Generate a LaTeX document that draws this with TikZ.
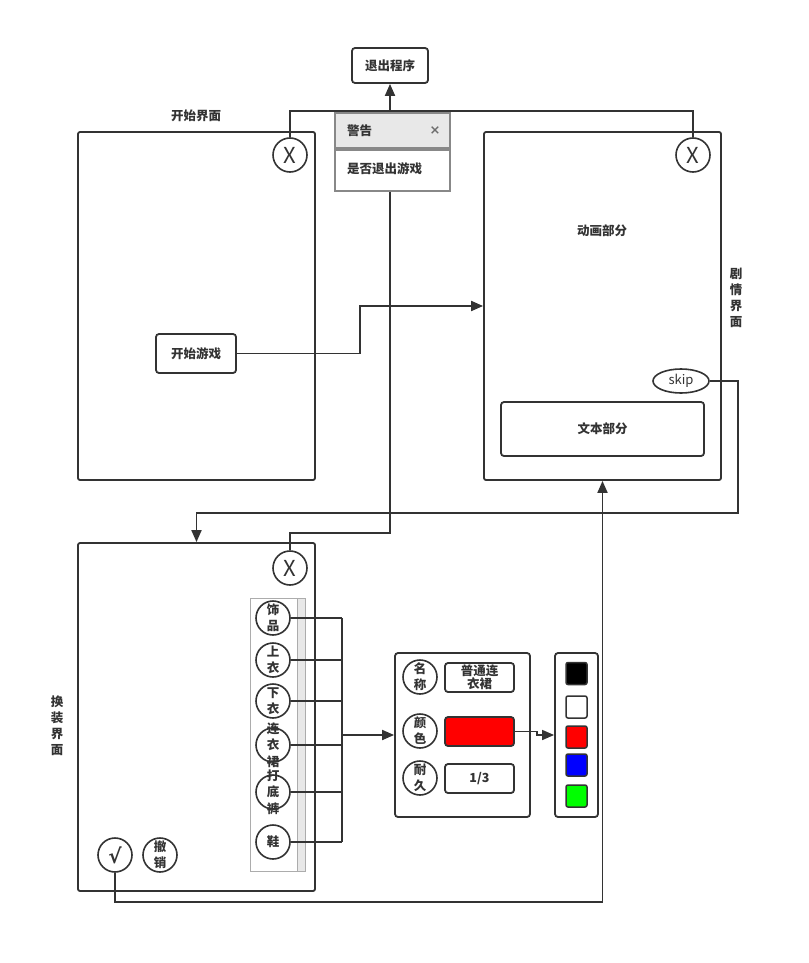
\documentclass[tikz,border=0pt]{standalone}
\usepackage{fontspec}
\setmainfont{Noto Sans CJK SC}
\newfontfamily\djv{DejaVu Sans}
\usetikzlibrary{arrows.meta,shapes.geometric}
\definecolor{ln}{HTML}{333333}
\definecolor{wg}{HTML}{888888}
\definecolor{hd}{HTML}{E8E8E8}
\begin{document}
\begin{tikzpicture}[x=1pt,y=-1pt,line width=1.8pt,
  every node/.style={font=\fontsize{12.5}{14}\selectfont\bfseries, text=ln},
  screen/.style={draw=ln,rounded corners=2pt,line width=1.8pt,minimum width=237pt,minimum height=348pt,inner sep=0pt},
  btn/.style={draw=ln,rounded corners=3pt,line width=1.8pt,inner sep=0pt},
  circ/.style={draw=ln,circle,line width=1.6pt,minimum size=34pt,inner sep=0pt,align=center,font=\fontsize{12.5}{13}\selectfont\bfseries},
  conn/.style={draw=ln,line width=1.8pt},
  arr/.style={conn,-{Triangle[length=12pt,width=10pt]}},
  sw/.style={draw=ln,rounded corners=2pt,line width=1.5pt,minimum width=21pt,minimum height=22pt,inner sep=0pt}]
\useasboundingbox (0,0) rectangle (808,963);
% screens
\node[screen] (start) at (196.5,306) {};
\node[screen] (story) at (602.5,306) {};
\node[screen] (dress) at (196.5,717) {};
% labels
\node (lstart) at (196,116) {开始界面};
\node[align=center,font=\fontsize{12.5}{16}\selectfont\bfseries] (lstory) at (736,298) {剧\\情\\界\\面};
\node[align=center,font=\fontsize{12.5}{16}\selectfont\bfseries] (ldress) at (57,726) {换\\装\\界\\面};
% quit
\node[btn,minimum width=76pt,minimum height=35pt] (quit) at (390,65.5) {退出程序};
% warning
\node[draw=wg,fill=hd,line width=1.8pt,minimum width=115pt,minimum height=35pt,inner sep=0pt] (warnh) at (392.5,130.5) {};
\node[draw=wg,fill=white,line width=1.8pt,minimum width=115pt,minimum height=41pt,inner sep=0pt,anchor=north] (warn) at (warnh.south) {};
\node[anchor=west] (wt) at (343,130.5) {警告};
\node[font=\djv\fontsize{13}{13}\selectfont\bfseries,text=wg!80!black] (wx) at (435,131) {×};
\node[anchor=west] (wb) at (343,169) {是否退出游戏};
% X circles
\node[circ,font=\fontsize{22}{22}\selectfont] (xs) at (290,155) {X};
\node[circ,font=\fontsize{22}{22}\selectfont] (xr) at (693,155) {X};
\node[circ,font=\fontsize{22}{22}\selectfont] (xd) at (290,568) {X};
% start game
\node[btn,minimum width=80pt,minimum height=39pt] (sg) at (196,353.5) {开始游戏};
% story contents
\node (anim) at (602,231) {动画部分};
\node[btn,minimum width=203pt,minimum height=54pt] (txt) at (602.5,429) {文本部分};
\node[draw=ln,ellipse,line width=1.6pt,minimum width=56pt,minimum height=24pt,inner sep=0pt,font=\fontsize{13}{13}\selectfont\mdseries] (skip) at (681,381) {skip};
% item list
\node[draw=wg!70,fill=white,line width=1pt,minimum width=55pt,minimum height=273pt,inner sep=0pt] (list) at (277.5,734.5) {};
\fill[hd] (297,599) rectangle (304.5,870.5);
\draw[wg!70,line width=1pt] (297,599) -- (297,870.5);
\node[circ] (i1) at (273,618) {饰\\[3pt]品};
\node[circ] (i2) at (273,660) {上\\[3pt]衣};
\node[circ] (i3) at (273,701) {下\\[3pt]衣};
\node[circ] (i4) at (273,745) {};
\node[align=center,font=\fontsize{12.5}{16.5}\selectfont\bfseries] (t4) at (273,745) {连\\衣\\裙};
\node[circ] (i5) at (273,792) {};
\node[align=center,font=\fontsize{12.5}{16.5}\selectfont\bfseries] (t5) at (273,792) {打\\底\\裤};
\node[circ] (i6) at (273,842) {鞋};
% confirm / undo
\node[circ,font=\djv\fontsize{20}{20}\selectfont\bfseries] (ok) at (115,855) {√};
\node[circ] (undo) at (160,855) {撤\\[3pt]销};
% attribute panel
\node[btn,minimum width=135pt,minimum height=164pt] (panel) at (462.5,735) {};
\node[circ] (pn) at (420,677) {名\\[3pt]称};
\node[btn,minimum width=69pt,minimum height=29pt,align=center,font=\fontsize{12.5}{13}\selectfont\bfseries] (pnv) at (479.5,677.5) {普通连\\衣裙};
\node[circ] (pc) at (420,731) {颜\\[3pt]色};
\node[btn,fill=red,minimum width=69pt,minimum height=29pt] (pcv) at (479.5,731.5) {};
\node[circ] (pd) at (420,778) {耐\\[3pt]久};
\node[btn,minimum width=69pt,minimum height=29pt] (pdv) at (479.5,778.5) {1/3};
% colour panel
\node[btn,minimum width=43pt,minimum height=164pt] (cp) at (576.5,735) {};
\node[sw,fill=black] (c1) at (576.5,673.5) {};
\node[sw,fill=white] (c2) at (576.5,707) {};
\node[sw,fill=red] (c3) at (576.5,737) {};
\node[sw,fill=blue] (c4) at (576.5,765) {};
\node[sw,fill=green] (c5) at (576.5,796) {};
% coordinates
\coordinate (top) at (390,111);
\coordinate (jw) at (390,533);
\coordinate (js) at (360,353.5);
\coordinate (jk) at (738,381);
\coordinate (jk2) at (738,513);
\coordinate (ok2) at (115,902);
\coordinate (bus) at (342,735);
\coordinate (cj) at (537,731.5);
% connectors
\draw[conn] (xs.north) |- (top) -| (xr.north);
\draw[arr] (top) -- (quit.south);
\draw[conn] (warn.south -| jw) -- (jw) -| (xd.north);
\draw[arr] (sg.east) -- (js) |- (story.west);
\draw[arr] (skip.east) -- (jk) -- (jk2) -| (dress.north);
\draw[arr] (ok.south) -- (ok2) -| (story.south);
\foreach \i in {1,...,6} \draw[conn,line width=1.5pt] (i\i.east) -- (i\i.east -| bus);
\draw[conn,line width=1.5pt] (i1.east -| bus) -- (i6.east -| bus);
\draw[arr] (bus) -- (panel.west);
\draw[arr,line width=1.5pt] (pcv.east) -- (cj) -- (cj |- cp.west) -- (cp.west);
\end{tikzpicture}
\end{document}
